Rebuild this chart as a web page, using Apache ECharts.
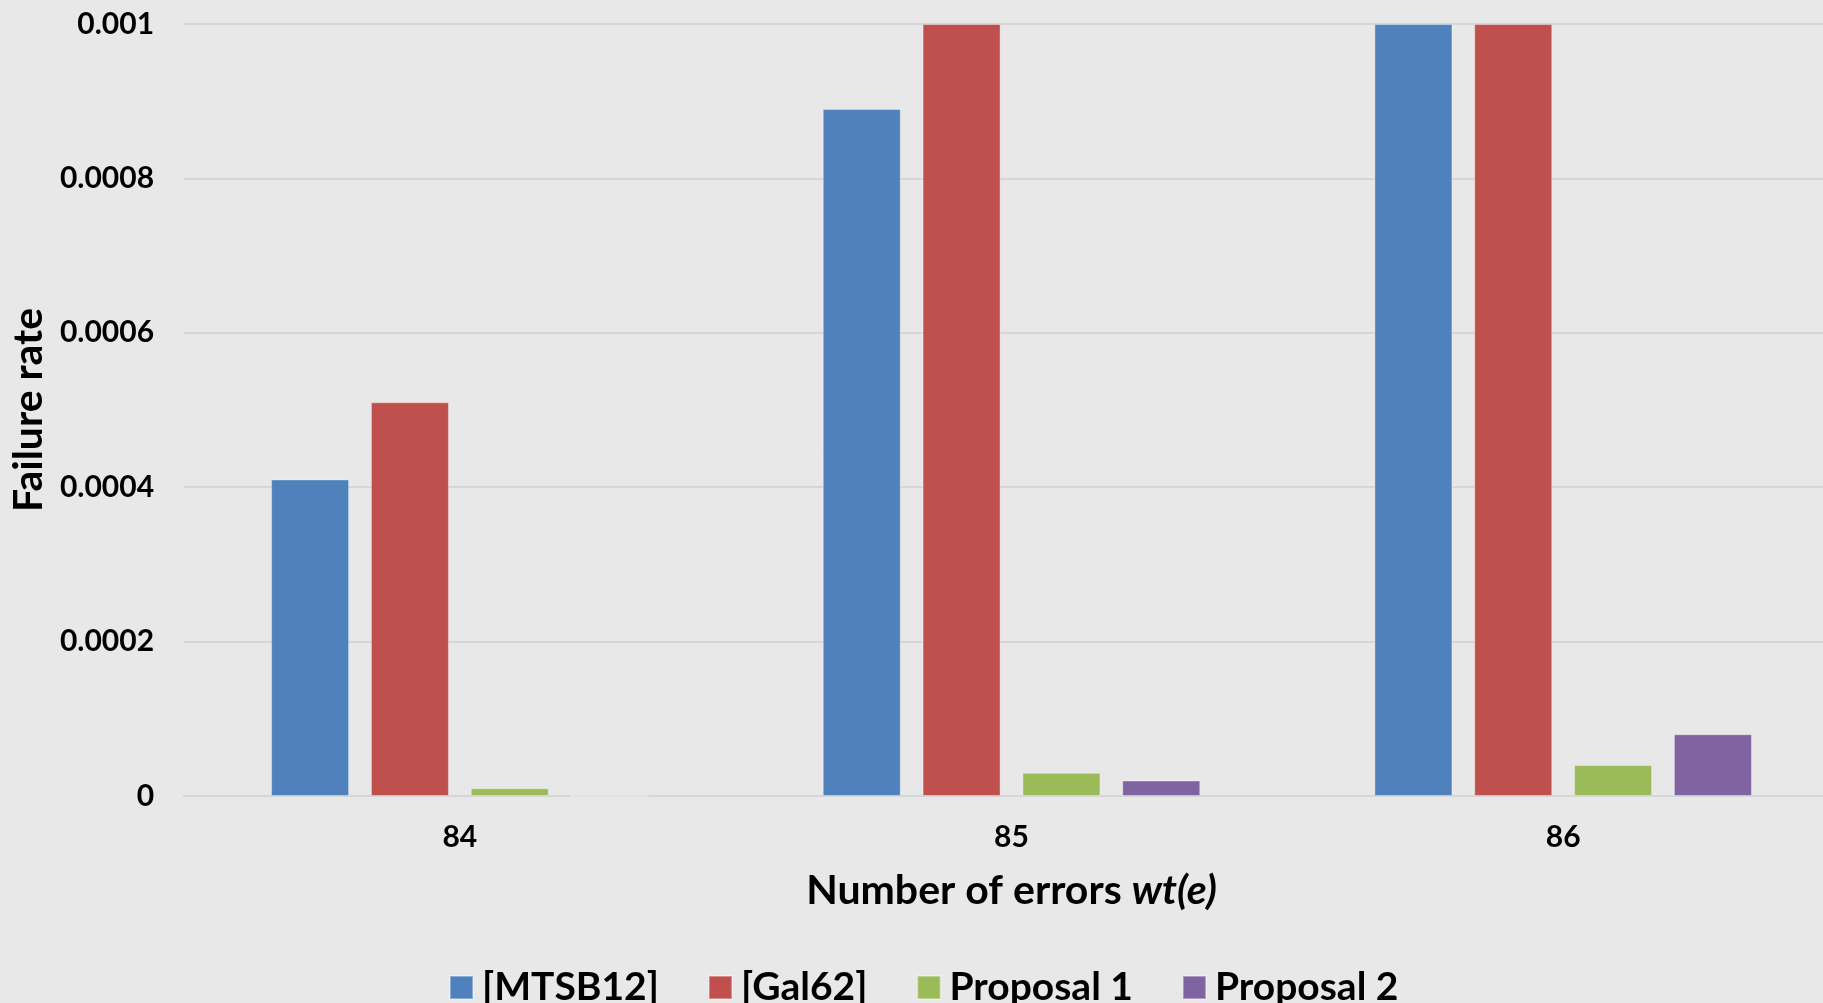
<!DOCTYPE html>
<html>
<head>
<meta charset="utf-8">
<script src="https://cdn.jsdelivr.net/npm/echarts@6/dist/echarts.min.js"></script>
<style>
  html, body { margin: 0; padding: 0; background: #e8e8e8; overflow: hidden; }
  /* the plot area runs slightly past the right edge of the page */
  #chart { width: 1840px; height: 1003px; }
</style>
</head>
<body>
<div id="chart"></div>
<script>
// Number of errors on the x axis
const categories = ['84', '85', '86'];

// Failure rate per scheme (bars reaching the top are clipped at the axis maximum)
const mtsb12 = [0.00041, 0.00089, 0.001];
const gal62 = [0.00051, 0.001, 0.001];
const proposal1 = [0.00001, 0.00003, 0.00004];
const proposal2 = [0, 0.00002, 0.00008];

const seriesNames = ['[MTSB12]', '[Gal62]', 'Proposal 1', 'Proposal 2'];
const seriesColors = ['#4f81bd', '#c0504d', '#9bbb59', '#8064a2'];
const seriesValues = [mtsb12, gal62, proposal1, proposal2];

const yTicks = { min: 0, max: 0.001, interval: 0.0002 };

const FONT = 'Lato';

const chart = echarts.init(document.getElementById('chart'));

chart.setOption({
  backgroundColor: '#e8e8e8',
  animation: false,
  textStyle: { fontFamily: FONT, color: '#000' },
  grid: { left: 183, top: 24, width: 1656, height: 772 },
  legend: {
    data: seriesNames,
    left: 444,
    top: 963,
    itemWidth: 23,
    itemHeight: 23,
    itemGap: 49,
    icon: 'rect',
    textStyle: { fontFamily: FONT, fontWeight: 'bold', fontSize: 39, color: '#000', padding: [0, 0, 0, 4] }
  },
  xAxis: {
    type: 'category',
    data: categories,
    name: '{a|Number of errors }{b|wt(e)}',
    nameLocation: 'middle',
    nameGap: 74,
    nameTextStyle: {
      rich: {
        a: { fontFamily: FONT, fontWeight: 'bold', fontSize: 41, color: '#000' },
        b: { fontFamily: FONT, fontWeight: 'bold', fontStyle: 'italic', fontSize: 41, color: '#000' }
      }
    },
    axisLine: { show: true, lineStyle: { color: '#d6d6d6', width: 2 } },
    axisTick: { show: false },
    axisLabel: { fontFamily: FONT, fontWeight: 'bold', fontSize: 30, color: '#000', margin: 26 }
  },
  yAxis: {
    type: 'value',
    min: yTicks.min,
    max: yTicks.max,
    interval: yTicks.interval,
    name: 'Failure rate',
    nameLocation: 'middle',
    nameGap: 128,
    nameTextStyle: { fontFamily: FONT, fontWeight: 'bold', fontSize: 41, color: '#000' },
    axisLine: { show: false },
    axisTick: { show: false },
    splitLine: { lineStyle: { color: '#d6d6d6', width: 2 } },
    axisLabel: {
      fontFamily: FONT, fontWeight: 'bold', fontSize: 30, color: '#000', margin: 30,
      formatter: v => v === 0 ? '0' : String(Number(v.toPrecision(6)))
    }
  },
  series: seriesNames.map((name, i) => ({
    name,
    type: 'bar',
    data: seriesValues[i],
    barWidth: 78,
    barGap: '28%',
    itemStyle: { color: seriesColors[i], borderColor: 'rgba(255,255,255,0.35)', borderWidth: 1 }
  }))
});
</script>
</body>
</html>
